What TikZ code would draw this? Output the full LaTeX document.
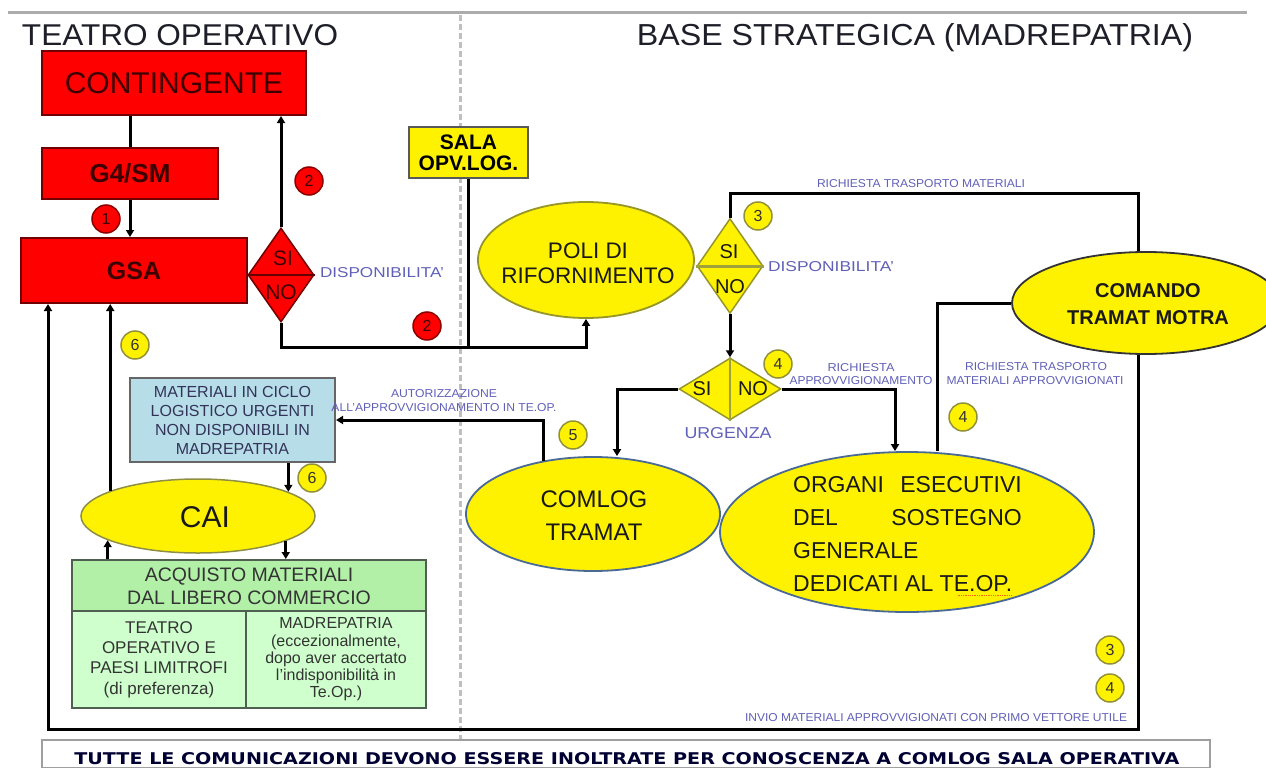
\documentclass[tikz,border=0pt]{standalone}
\usepackage{graphicx}
\usepackage{fontspec}
\setmainfont{Liberation Sans}
\newfontfamily\dejavu{DejaVu Sans}
\usetikzlibrary{shapes.geometric,arrows.meta,calc}
\definecolor{lblc}{RGB}{96,96,184}
\definecolor{matc}{RGB}{183,222,232}
\definecolor{acqh}{RGB}{178,240,168}
\definecolor{acqc}{RGB}{206,255,204}
\definecolor{acqb}{RGB}{80,96,80}
\definecolor{ellb}{RGB}{74,106,150}
\definecolor{oliv}{RGB}{150,150,40}
\definecolor{ttl}{RGB}{30,30,40}
\definecolor{redt}{RGB}{60,0,0}
\newcommand{\fsz}[2]{\fontsize{#1pt}{#2pt}\selectfont}
\newcommand{\lb}[3]{\resizebox{#1pt}{#2pt}{#3}}
\begin{document}
\begin{tikzpicture}[x=1pt,y=-1pt,
  ln/.style={line width=3pt,draw=black},
  arr/.style={ln,-{Triangle[length=7pt,width=8pt]}},
  redbox/.style={draw=red!45!black,line width=2pt,fill=red,inner sep=0,text=redt},
  ybox/.style={draw=black!65,line width=2pt,fill=yellow,inner sep=0},
  yell/.style={ellipse,fill=yellow,inner sep=0,line width=1.8pt},
  txt/.style={inner sep=0,text=black!90},
  lab/.style={inner sep=0,text=lblc},
  numy/.style={circle,minimum size=28pt,inner sep=0,fill=yellow,draw=oliv!80!gray,line width=1.5pt,font=\fsz{16}{16},text=black!80},
  numr/.style={circle,minimum size=28pt,inner sep=0,fill=red,draw=red!55!black,line width=1.5pt,font=\fsz{16}{16},text=redt},
  cell/.style={draw=acqb,line width=2pt,inner sep=0,align=center,text=black!80}
]
\useasboundingbox (0,0) rectangle (1266,768);
\fill[white] (0,0) rectangle (1266,768);

% frame lines
\draw[gray!65,line width=3pt] (8,13) -- (1247,13);
\draw[gray!50,line width=3pt,dash pattern=on 6pt off 3pt] (460,15) -- (460,740);

% titles
\node[inner sep=0,text=ttl,anchor=base] (t1) at (180,45.5) {\lb{316}{21}{TEATRO OPERATIVO}};
\node[inner sep=0,text=ttl,anchor=base] (t2) at (915,45.5) {\lb{556}{22}{BASE STRATEGICA (MADREPATRIA)}};

% helper coordinates
\coordinate (jn) at (0,347);
\coordinate (tp) at (0,193);
\coordinate (bl) at (48,729);
\coordinate (cmx) at (1138,0);
\coordinate (x937) at (937,0);
\coordinate (x895) at (895,0);
\coordinate (x617) at (617,0);

% red nodes
\node[redbox,minimum width=264pt,minimum height=64pt,font=\fsz{30}{30}] (cont) at (174,83) {CONTINGENTE};
\node[redbox,minimum width=176pt,minimum height=51pt,font=\bfseries\fsz{26}{26}] (g4) at (130,173.5) {G4/SM};
\node[redbox,minimum width=226pt,minimum height=65pt,font=\bfseries\fsz{25}{25}] (gsa) at (134,270.5) {GSA};
\node[diamond,fill=red,draw=red!45!black,line width=1.5pt,minimum width=66pt,minimum height=94pt,inner sep=0] (dR) at (281,275) {};
\draw[red!40!black,line width=2.5pt] (dR.west) -- (dR.east);
\node[txt,text=redt,font=\fsz{21}{21}] (dRsi) at (283,258) {SI};
\node[txt,text=redt,font=\fsz{21}{21}] (dRno) at (281,292) {NO};

% yellow nodes
\node[ybox,minimum width=119pt,minimum height=51pt,align=center,font=\bfseries\fsz{21}{21}] (sala) at (468.5,152.5) {SALA\\OPV.LOG.};
\node[yell,draw=oliv,minimum width=216pt,minimum height=116pt] (poli) at (586,260) {};
\node[txt,align=center,font=\fsz{22.5}{25}] (polit) at (588,263) {POLI DI\\RIFORNIMENTO};
\node[diamond,fill=yellow,draw=oliv,line width=1.5pt,minimum width=66pt,minimum height=95pt,inner sep=0] (d3) at (730,266) {};
\draw[oliv!90,line width=3pt] (d3.west) -- (d3.east);
\node[txt,font=\fsz{20}{20}] (d3si) at (729,252) {SI};
\node[txt,font=\fsz{20}{20}] (d3no) at (730,287) {NO};
\node[yell,draw=black!80,minimum width=268pt,minimum height=102pt] (comando) at (1146,303) {};
\node[txt,align=center,font=\bfseries\fsz{20}{27}] (comandot) at (1148,304) {COMANDO\\TRAMAT MOTRA};
\node[diamond,fill=yellow,draw=oliv,line width=1.5pt,minimum width=102pt,minimum height=62pt,inner sep=0] (d4) at (730,389) {};
\draw[oliv!90,line width=2pt] (d4.north) -- (d4.south);
\node[txt,font=\fsz{20}{20}] (d4si) at (702,389) {SI};
\node[txt,font=\fsz{20}{20}] (d4no) at (753,389) {NO};
\node[yell,draw=ellb,minimum width=254pt,minimum height=114pt] (comlog) at (593,514) {};
\node[txt,align=center,font=\fsz{24}{33}] (comlogt) at (594,516) {COMLOG\\TRAMAT};
\node[yell,draw=ellb,minimum width=374pt,minimum height=160pt] (organi) at (907,532) {};
\node[txt,anchor=west,font=\fsz{23}{23},text height=16.5pt,text depth=0pt] (o1w) at (793,484) {ORGANI};
\node[txt,anchor=east,font=\fsz{23}{23},text height=16.5pt,text depth=0pt] (o1e) at (1022,484) {ESECUTIVI};
\node[txt,anchor=west,font=\fsz{23}{23},text height=16.5pt,text depth=0pt] (o2w) at (793,517) {DEL};
\node[txt,anchor=east,font=\fsz{23}{23},text height=16.5pt,text depth=0pt] (o2e) at (1022,517) {SOSTEGNO};
\node[txt,anchor=west,font=\fsz{23}{23},text height=16.5pt,text depth=0pt] (o3) at (793,550) {GENERALE};
\node[txt,anchor=west,font=\fsz{23}{23},text height=16.5pt,text depth=0pt] (o4) at (793,583) {DEDICATI AL TE.OP.};
\draw[orange!80!red,densely dotted,line width=1.3pt] ($(o4.south east)+(-54,4)$) -- ($(o4.south east)+(0,4)$);

% left lower nodes
\node[draw=black!60,line width=2pt,fill=matc,minimum width=205pt,minimum height=84pt,inner sep=0,align=center,font=\fsz{16}{19},text=black!75!blue!60!gray] (mat) at (232.5,420) {MATERIALI IN CICLO\\LOGISTICO URGENTI\\NON DISPONIBILI IN\\MADREPATRIA};
\node[yell,draw=oliv!70!gray,line width=1.5pt,minimum width=234pt,minimum height=74pt] (cai) at (198,516) {};
\node[txt,font=\fsz{30}{30}] (cait) at (205,517) {CAI};
\node[cell,fill=acqh,minimum width=354pt,minimum height=51pt] (acqh) at (249,585.5) {};
\node[txt,align=center,text=black!80,font=\fsz{19.5}{22.5}] (acqt) at (249,586.5) {ACQUISTO MATERIALI\\DAL LIBERO COMMERCIO};
\node[cell,fill=acqc,minimum width=174pt,minimum height=97pt,font=\fsz{17}{20.3}] (acql) at (159,659.5) {TEATRO\\OPERATIVO E\\PAESI LIMITROFI\\(di preferenza)};
\node[cell,fill=acqc,minimum width=180pt,minimum height=97pt,font=\fsz{16}{17.3}] (acqr) at (336,659.5) {MADREPATRIA\\(eccezionalmente,\\dopo aver accertato\\l'indisponibilità in\\Te.Op.)};

% bottom note
\node[draw=gray!75,line width=2pt,fill=white,minimum width=1168pt,minimum height=28pt,inner sep=0] (note) at (626,754) {};
\node[inner sep=0,text=black!80!blue,anchor=base] (notet) at (627,764) {\lb{1105}{12}{\dejavu\bfseries TUTTE LE COMUNICAZIONI DEVONO ESSERE INOLTRATE PER CONOSCENZA A COMLOG SALA OPERATIVA}};

% connectors
\draw[ln] (g4.north |- cont.south) -- (g4.north);
\draw[arr] (g4.south) -- (g4.south |- gsa.north);
\draw[arr] (dR.north) -- (dR.north |- cont.south);
\draw[arr] (dR.south) |- (jn -| poli.south) -- (poli.south);
\draw[ln] (sala.south) -- (sala.south |- jn);
\draw[ln] (d3.north) |- (tp -| cmx) -- (cmx |- comando.north);
\draw[arr] (d3.south) -- (d4.north);
\draw[arr] (d4.west) -| (x617 |- comlog.north);
\draw[arr] (d4.east) -| (x895 |- organi.north);
\draw[ln] (x937 |- organi.north) |- (comando.west);
\draw[arr] (cmx |- comando.south) |- (bl) -- (bl |- gsa.south);
\draw[arr] (comlog.133.7) |- (mat.east);
\draw[arr] (cai.15.86 |- mat.south) -- (cai.15.86);
\draw[arr] (cai.164.5) -- (cai.164.5 |- gsa.south);
\draw[arr] (cai.195.5 |- acqh.north) -- (cai.195.5);
\draw[arr] (cai.344.14) -- (cai.344.14 |- acqh.north);

% labels
\node[lab] (l1) at (382,273) {\lb{124}{10}{DISPONIBILITA'}};
\node[lab] (l2) at (831,267) {\lb{126}{10}{DISPONIBILITA'}};
\node[lab] (l3) at (921,184) {\lb{208}{8}{RICHIESTA TRASPORTO MATERIALI}};
\node[lab] (l4a) at (861,368) {\lb{67}{8}{RICHIESTA}};
\node[lab] (l4b) at (861,381) {\lb{143}{8}{APPROVVIGIONAMENTO}};
\node[lab] (l5a) at (1036,367) {\lb{142}{8}{RICHIESTA TRASPORTO}};
\node[lab] (l5b) at (1035,381) {\lb{177}{8}{MATERIALI APPROVVIGIONATI}};
\node[lab] (l6) at (728,433) {\lb{87}{11}{URGENZA}};
\node[lab] (l7a) at (444,394) {\lb{106}{8}{AUTORIZZAZIONE}};
\node[lab] (l7b) at (444,408) {\lb{225}{8}{ALL'APPROVVIGIONAMENTO IN TE.OP.}};
\node[lab] (l8) at (936,718) {\lb{382}{8}{INVIO MATERIALI APPROVVIGIONATI CON PRIMO VETTORE UTILE}};

% numbered circles
\node[numr] (c1) at (106,219) {1};
\node[numr] (c2a) at (309,181) {2};
\node[numr] (c2b) at (427,326) {2};
\node[numy] (c3a) at (758,216) {3};
\node[numy] (c4a) at (778,364) {4};
\node[numy] (c4b) at (963,417) {4};
\node[numy] (c5) at (573,435) {5};
\node[numy] (c6a) at (135,345) {6};
\node[numy] (c6b) at (312,478) {6};
\node[numy] (c3b) at (1110,650) {3};
\node[numy] (c4c) at (1110,688) {4};
\end{tikzpicture}
\end{document}
